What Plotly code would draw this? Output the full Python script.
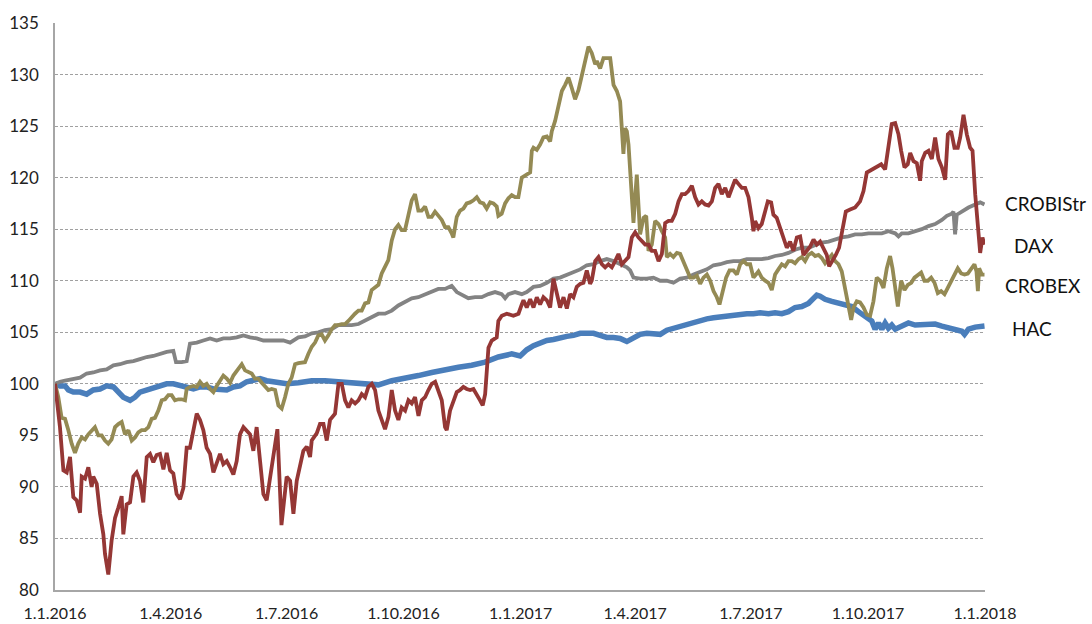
import pandas as pd
import plotly.graph_objects as go

START = pd.Timestamp("2016-01-01")

# ---------------- data (day offset from 1.1.2016, index value) ----------------
dax_days = [0, 3.9, 6.6, 9.2, 11.8, 14.4, 17, 19.7, 21, 23.6, 26.2, 28.8, 30.1, 32.8, 35.4, 38, 39.3, 41.9,
            44.5, 47.2, 49.8, 52.4, 53.7, 56.3, 59, 61.6, 64.2, 66.8, 69.4, 72.1, 74.7, 77.3, 79.9, 82.5,
            85.2, 87.8, 90.4, 93, 95.6, 98.3, 100.9, 103.5, 106.1, 108.8, 111.4, 114, 116.6, 119.2, 121.9,
            124.5, 127.1, 129.7, 132.3, 135, 137.6, 140.2, 142.8, 145.4, 148.1, 150.7, 153.3, 155.9, 158.5,
            161.2, 163.8, 166.4, 169, 171.6, 174.8, 178, 180.8, 182.1, 184.8, 187.4, 190, 195.2, 197.9,
            200.5, 201.8, 205.7, 208.3, 211, 213.6, 216.2, 220.1, 222.8, 225.4, 228, 230.6, 233.2, 235.9,
            238.5, 241.1, 243.7, 246.3, 249, 251.6, 254.2, 256.8, 259.4, 262.1, 264.7, 267.3, 269.9, 272.5,
            275.2, 277.8, 280.4, 283, 285.7, 288.3, 290.9, 293.5, 296.1, 298.8, 301.4, 304, 306.6, 307.9,
            310.5, 313.2, 315.8, 318.4, 321, 323.6, 326.3, 328.9, 331.5, 334.1, 336.2, 338.1, 340.7, 343.3,
            347.2, 348.5, 351.2, 355.1, 360.3, 364.3, 366.9, 368.2, 370.8, 373.5, 376.1, 378.7, 381.3, 383.9,
            386.6, 389.2, 391.8, 394.4, 397, 399.7, 402.3, 404.9, 407.5, 410.1, 412.8, 415.4, 418, 420.6,
            421.9, 424.6, 427.2, 429.8, 432.4, 435, 437.7, 440.3, 442.9, 445.5, 448.1, 450.8, 453.4, 456,
            458.6, 461.2, 463.9, 466.5, 469.1, 471.7, 474.4, 477, 479.6, 482.2, 484.8, 487.5, 490.1, 492.7,
            495.3, 497.9, 500.6, 503.2, 505.8, 508.4, 511, 513.7, 516.3, 518.9, 521.5, 524.1, 526.8, 529.4,
            532, 534.6, 537.2, 539.9, 542.5, 545.1, 547.7, 549, 550.3, 552.9, 555.5, 558.2, 560.3, 562.9,
            564.7, 567.3, 570, 572.6, 575.2, 577.8, 580.4, 583.1, 585.7, 588.3, 590.9, 593.5, 596.2, 598.8,
            601.4, 604, 606.6, 608.5, 611.1, 613.7, 616.3, 619, 621.6, 625, 628.9, 632.8, 635.5, 638.1, 642,
            646, 649.4, 652.5, 655.1, 657.7, 660.4, 663, 665.1, 667.7, 670.3, 672.2, 674.8, 677.4, 680,
            681.3, 684, 686.6, 689.2, 691.8, 694.4, 697.1, 699.7, 701.8, 704.4, 707, 709.6, 711.5, 714.1,
            716.7, 719.3, 721.2, 723.3, 725.4, 727.2, 729, 730.6]
dax_vals = [100, 95.8, 91.6, 91.4, 92.9, 89.0, 88.7, 87.5, 91.0, 90.8, 91.9, 90.0, 91.0, 90.3, 87.4, 85.4, 83.5,
            81.5, 84.8, 87.0, 88.0, 89.1, 85.4, 88.3, 88.5, 91.0, 91.4, 90.6, 88.5, 92.9, 93.2, 92.4, 93.1,
            93.2, 91.7, 93.3, 91.6, 91.3, 89.3, 88.8, 89.9, 93.8, 93.8, 95.5, 97.1, 96.5, 95.5, 93.8, 93.2,
            91.4, 92.2, 93.2, 92.2, 92.5, 91.9, 91.2, 92.5, 95.1, 95.8, 95.5, 95.1, 93.5, 95.8, 92.5, 89.3,
            88.7, 91.0, 93.2, 95.6, 86.3, 89.3, 91.0, 90.6, 87.4, 90.6, 93.5, 93.9, 92.9, 94.5, 95.2, 96.1,
            96.1, 94.5, 96.5, 97.1, 100, 100, 98.4, 97.7, 98.4, 98.1, 98.4, 99.0, 98.7, 99.7, 100, 99.4,
            97.4, 96.5, 95.6, 96.8, 99.4, 97.4, 96.5, 97.7, 97.4, 98.4, 98.1, 98.7, 96.9, 98.4, 98.7, 99.4,
            100, 100.2, 99.4, 98.4, 95.8, 95.5, 97.4, 98.4, 99.2, 99.4, 99.7, 99.5, 99.4, 99.5, 99.0, 98.4,
            97.9, 99.0, 103.5, 104.2, 104.5, 106.1, 106.6, 106.8, 106.6, 106.8, 107.7, 108.1, 107.4, 108.2,
            107.4, 108.4, 107.7, 108.4, 108.1, 107.4, 110.2, 108.7, 107.4, 108.4, 107.3, 108.7, 108.4, 109.4,
            109.7, 109.8, 111.0, 109.7, 110.0, 111.9, 112.3, 111.6, 111.3, 111.6, 111.3, 111.9, 112.6, 111.6,
            111.9, 112.3, 114.2, 114.7, 114.2, 113.9, 113.5, 113.5, 112.9, 112.9, 111.9, 112.6, 115.6, 115.8,
            115.8, 116.5, 117.7, 118.4, 118.4, 118.7, 119.2, 118.1, 117.4, 117.7, 117.4, 117.3, 117.7, 119.0,
            119.4, 118.4, 119.0, 118.1, 119.0, 119.8, 119.4, 119.0, 119.0, 118.1, 116.1, 114.8, 115.8, 115.1,
            115.5, 116.7, 117.7, 117.6, 116.4, 116.1, 115.1, 114.2, 113.2, 113.8, 112.9, 114.2, 114.3, 112.5,
            112.9, 113.3, 114.0, 113.5, 113.8, 113.2, 112.5, 111.4, 111.9, 112.5, 113.2, 115.1, 116.7, 116.9,
            117.1, 117.7, 118.7, 120.5, 120.8, 121.0, 121.3, 120.8, 122.9, 125.2, 125.3, 124.2, 122.6, 121.0,
            121.3, 122.4, 121.6, 121.4, 119.7, 121.6, 122.4, 122.6, 121.8, 123.9, 121.8, 121.0, 119.8, 124.2,
            124.5, 122.9, 122.9, 123.9, 126.1, 124.2, 122.9, 122.6, 118.4, 115.1, 112.7, 114.2, 113.5]

crobex_days = [0, 2.6, 5.2, 7.9, 10.5, 13.1, 15.7, 18.3, 21, 23.6, 26.2, 28.8, 31.4, 34.1, 36.7, 39.3, 41.9,
               44.5, 47.2, 49.8, 52.4, 55, 57.7, 60.3, 62.9, 65.5, 68.1, 70.8, 73.4, 76, 78.6, 81.2, 83.9,
               86.5, 89.1, 91.7, 94.3, 97, 99.6, 102.2, 103.5, 106.1, 108.8, 111.4, 114, 116.6, 119.2, 121.9,
               124.5, 127.1, 129.7, 132.3, 135, 137.6, 140.2, 142.8, 145.4, 146.8, 149.4, 152, 154.6, 157.2,
               159.9, 162.5, 165.1, 167.7, 170.3, 173, 175.6, 178.2, 180.8, 183.4, 186, 188.7, 191.3, 194,
               196.5, 199.1, 201.8, 204.4, 207, 209.6, 212.2, 214.9, 217.5, 220.1, 222.7, 225.3, 228, 230.6,
               233.2, 235.8, 238.5, 241.1, 243.7, 246.3, 248.9, 251.6, 254.2, 256.8, 259.4, 262, 264.7, 267.3,
               269.9, 272.5, 275.1, 277.8, 280.4, 283, 285.6, 288.2, 290.9, 293.5, 296.1, 298.7, 301.3, 304,
               306.6, 309.2, 311.8, 313.1, 315.8, 318.4, 321, 323.6, 326.2, 328.9, 331.5, 334.1, 336.7, 339.3,
               342, 344.6, 347.2, 348.5, 351.1, 353.8, 356.4, 359, 361.6, 364.2, 366.9, 370.8, 373.5, 374.8,
               376.1, 378.7, 381.3, 383.9, 386.6, 389.2, 390.5, 393.1, 395.7, 398.4, 401, 403.6, 406.2, 408.8,
               411.5, 414.1, 416.7, 419.3, 421.9, 424.6, 425.9, 428.5, 431.1, 433.7, 436.4, 439, 441.6, 444.2,
               445.5, 446.8, 448.1, 449.5, 450.8, 452.1, 453.4, 454.7, 456, 457.3, 458.6, 459.9, 462.6, 464.7,
               466.5, 469.1, 471.7, 474.4, 477, 479.6, 480.9, 483.5, 486.1, 488.8, 491.4, 494, 496.6, 499.3,
               501.9, 504.5, 507.1, 509.7, 512.4, 515, 517.6, 520.2, 522.3, 524.9, 527.5, 530.2, 533.3, 536,
               538.6, 541.2, 543.8, 546.4, 549, 552.9, 555.5, 558.2, 560.8, 563.4, 566, 568.6, 571.3, 573.9,
               576.5, 579.1, 581.7, 584.4, 587, 589.6, 592.2, 594.8, 597.5, 600.1, 602.7, 605.3, 608, 610.6,
               613.2, 615.8, 618.4, 621.1, 623.7, 625.8, 627.6, 630.2, 632.8, 635.5, 638.1, 640.7, 643.3,
               645.9, 648.6, 651.2, 653.8, 656.4, 658.3, 660.4, 662.5, 665.1, 667.7, 670.3, 673, 675.6, 678.2,
               680.8, 683.4, 686.1, 688.7, 691.3, 693.9, 696.5, 699.2, 701.8, 704.4, 707, 709.6, 712.3, 714.9,
               717.5, 720.1, 722.7, 724.3, 725.4, 726.4, 728.5, 730.6]
crobex_vals = [100, 98.7, 96.7, 96.6, 95.5, 94.2, 93.3, 94.2, 94.8, 94.6, 95.1, 95.5, 95.8, 95.0, 95.0, 94.5,
               94.2, 94.6, 95.8, 96.1, 96.3, 95.1, 95.5, 94.5, 94.8, 95.3, 95.5, 95.5, 95.8, 96.6, 96.7, 97.4,
               98.4, 98.5, 98.9, 98.9, 98.4, 98.5, 98.5, 98.4, 99.5, 99.7, 99.8, 99.7, 100.2, 99.8, 100, 99.5,
               99.2, 99.8, 100.3, 100.8, 100.5, 100.1, 100.8, 101.3, 101.8, 101.9, 101.3, 101.1, 101.0, 100.5,
               100.5, 100.1, 99.7, 99.4, 99.5, 99.4, 97.9, 97.6, 98.7, 100, 100.6, 101.9, 102.0, 102.1, 102.1,
               102.9, 103.6, 104.0, 104.7, 104.8, 104.2, 104.7, 105.3, 105.7, 105.7, 105.8, 105.8, 106.1, 106.5,
               106.8, 107.1, 107.1, 107.8, 107.9, 109.1, 109.4, 109.6, 110.7, 111.3, 112.0, 113.9, 115.0, 115.4,
               114.9, 114.9, 116.3, 117.8, 118.4, 116.8, 116.8, 117.2, 116.2, 116.2, 116.7, 116.3, 115.9, 115.2,
               115.2, 114.6, 114.2, 116.2, 116.8, 117.0, 117.5, 117.6, 117.8, 118.1, 117.6, 117.5, 117.0, 117.6,
               117.5, 117.2, 116.3, 116.5, 117.5, 118.0, 118.3, 118.1, 118.1, 120.0, 120.3, 120.5, 122.6, 122.9,
               122.7, 123.2, 123.9, 124.0, 123.5, 124.5, 125.5, 126.8, 128.4, 129.0, 129.7, 128.7, 127.6, 128.5,
               130.0, 131.6, 132.7, 132.1, 131.0, 131.3, 130.6, 131.6, 131.6, 131.6, 129.0, 128.4, 127.4, 125.2,
               122.3, 124.8, 124.5, 123.2, 120.6, 118.1, 115.6, 118.1, 120.3, 117.4, 114.5, 116.1, 116.3, 112.9,
               113.5, 115.8, 115.5, 114.8, 114.2, 112.3, 112.6, 112.3, 112.7, 112.6, 111.9, 111.0, 110.3, 110.3,
               110.5, 109.7, 110.3, 110.6, 110.0, 109.0, 108.4, 107.7, 109.0, 110.3, 111.0, 111.0, 110.6, 111.6,
               111.9, 111.6, 111.6, 110.3, 110.9, 110.3, 110.0, 109.8, 109.1, 110.6, 111.1, 111.6, 111.4, 111.9,
               111.9, 111.7, 112.1, 112.3, 111.9, 112.5, 112.7, 112.4, 112.5, 112.2, 111.7, 112.1, 112.5, 111.9,
               111.6, 110.9, 109.3, 107.4, 106.2, 107.4, 108.0, 107.9, 107.4, 106.7, 106.6, 108.0, 110.3, 110.0,
               109.3, 111.2, 112.4, 111.2, 109.3, 107.5, 110.0, 109.1, 109.6, 109.8, 110.3, 110.6, 110.8, 110.0,
               110.0, 110.3, 109.8, 108.8, 109.0, 108.7, 109.3, 110.0, 110.6, 111.2, 110.7, 110.6, 110.7, 111.2,
               111.6, 110.9, 109.0, 111.2, 110.6, 110.6]

crobistr_days = [0, 3.9, 7.9, 14.4, 19.7, 24.9, 30.1, 35.4, 40.6, 45.9, 51.1, 56.3, 61.6, 66.8, 72.1, 77.3,
                 82.5, 87.8, 93, 95.1, 99.6, 103.5, 106.1, 111.4, 116.6, 121.9, 127.1, 132.3, 137.6, 142.8,
                 148.1, 153.3, 158.5, 163.8, 169, 174.3, 179.5, 184.8, 191.3, 196.5, 201.8, 207, 212.2, 217.5,
                 222.7, 228, 233.2, 238.5, 243.7, 248.9, 254.2, 259.4, 264.7, 269.9, 275.1, 280.4, 285.6, 290.9,
                 296.1, 301.3, 306.6, 311.8, 315.8, 319.7, 324.9, 330.2, 335.4, 340.7, 345.9, 351.1, 353.8,
                 356.4, 361.6, 366.9, 370.8, 376.1, 381.3, 386.6, 391.8, 397, 402.3, 407.5, 412.8, 418, 423.3,
                 428.5, 433.7, 439, 444.2, 449.5, 452.1, 454.7, 459.9, 465.2, 470.4, 475.7, 480.9, 486.1, 491.4,
                 496.6, 501.9, 507.1, 512.4, 517.6, 522.8, 528.1, 533.3, 538.6, 543.8, 549, 555.5, 560.8, 566,
                 571.3, 576.5, 581.7, 587, 592.2, 597.5, 602.7, 608, 613.2, 618.4, 623.7, 628.9, 634.2, 639.4,
                 644.6, 649.9, 655.1, 660.4, 663, 665.6, 670.8, 676.1, 681.3, 686.6, 691.8, 697.1, 701, 704.9,
                 706.2, 707.5, 708.8, 712.8, 718, 723.3, 727.2, 730.6]
crobistr_vals = [100, 100.2, 100.3, 100.5, 100.6, 101.0, 101.1, 101.3, 101.4, 101.8, 101.9, 102.1, 102.2, 102.4,
                 102.6, 102.7, 102.9, 103.1, 103.2, 102.1, 102.1, 102.2, 103.9, 104.0, 104.2, 104.4, 104.2, 104.4,
                 104.4, 104.5, 104.7, 104.5, 104.4, 104.2, 104.2, 104.2, 104.2, 104.0, 104.5, 104.6, 104.9, 105.0,
                 105.2, 105.3, 105.7, 105.7, 105.7, 105.8, 106.1, 106.5, 106.8, 106.8, 107.1, 107.6, 107.9, 108.3,
                 108.4, 108.7, 108.9, 109.2, 109.2, 109.5, 108.9, 108.6, 108.3, 108.4, 108.4, 108.7, 108.9, 108.7,
                 108.3, 108.7, 108.9, 108.7, 108.9, 109.4, 109.5, 109.8, 110.2, 110.3, 110.6, 110.8, 111.1, 111.5,
                 111.6, 111.9, 112.1, 111.9, 111.6, 111.3, 111.0, 110.3, 110.2, 110.2, 110.3, 110.0, 110.0, 109.8,
                 110.2, 110.3, 110.6, 110.8, 111.1, 111.5, 111.6, 111.8, 111.9, 111.9, 112.1, 112.1, 112.1, 112.2,
                 112.4, 112.5, 112.7, 113.0, 113.2, 113.2, 113.5, 113.7, 113.8, 114.0, 114.2, 114.3, 114.5, 114.5,
                 114.6, 114.6, 114.6, 114.8, 114.6, 114.3, 114.6, 114.6, 114.8, 115.0, 115.3, 115.5, 115.9, 116.3,
                 116.5, 116.7, 114.5, 116.4, 116.7, 117.1, 117.4, 117.6, 117.4]

hac_days = [0, 3.9, 7.9, 10.5, 14.4, 19.7, 24.9, 30.1, 35.4, 40.6, 45.9, 49.8, 53.7, 59, 62.9, 66.8, 72.1,
            77.3, 82.5, 87.8, 93, 98.3, 103.5, 108.8, 114, 119.2, 124.5, 129.7, 135, 140.2, 145.4, 150.7,
            155.9, 161.2, 166.4, 171.6, 176.9, 182.1, 191.3, 201.8, 212.2, 222.7, 233.2, 243.7, 254.2, 264.7,
            275.1, 285.6, 296.1, 306.6, 317.1, 327.5, 338, 348.5, 359, 365.6, 370.8, 376.1, 381.3, 386.6,
            391.8, 397, 402.3, 407.5, 412.8, 418, 423.3, 428.5, 433.7, 439, 444.2, 449.5, 454.7, 459.9, 465.2,
            470.4, 475.7, 480.9, 486.1, 491.4, 496.6, 501.9, 507.1, 512.4, 517.6, 522.8, 528.1, 533.3, 538.6,
            543.8, 549, 554.3, 560.8, 566, 571.3, 576.5, 581.7, 587, 592.2, 596.2, 598.8, 601.4, 605.3, 610.6,
            615.8, 621.1, 626.3, 631.5, 636.8, 642, 644.6, 647.3, 649.9, 652.5, 655.1, 657.7, 660.4, 665.6,
            670.8, 676.1, 681.3, 686.6, 691.8, 697.1, 702.3, 707.5, 712.8, 714.9, 718, 723.3, 730.6]
hac_vals = [100, 99.8, 99.8, 99.4, 99.2, 99.2, 99.0, 99.4, 99.5, 99.8, 99.7, 99.2, 98.7, 98.4, 98.7, 99.2, 99.4,
            99.5, 99.7, 100.0, 100.0, 99.8, 99.7, 99.5, 99.7, 99.7, 99.5, 99.5, 99.4, 99.7, 99.8, 100.2, 100.3,
            100.5, 100.3, 100.2, 100.0, 100.0, 100.1, 100.3, 100.3, 100.2, 100.0, 100.0, 99.9, 100.3, 100.5,
            100.8, 101.1, 101.4, 101.6, 101.8, 102.1, 102.6, 102.9, 102.7, 103.3, 103.7, 104.0, 104.2, 104.3,
            104.5, 104.6, 104.7, 104.9, 104.9, 104.9, 104.7, 104.5, 104.5, 104.4, 104.1, 104.4, 104.8, 104.9,
            104.8, 104.8, 105.2, 105.4, 105.6, 105.8, 106.0, 106.1, 106.3, 106.4, 106.5, 106.5, 106.6, 106.8,
            106.8, 106.8, 106.9, 106.8, 106.9, 106.8, 107.0, 107.4, 107.5, 107.8, 108.2, 108.6, 108.5, 108.2,
            108.0, 107.8, 107.7, 107.5, 107.0, 106.6, 106.1, 105.3, 105.9, 105.3, 105.9, 105.4, 105.7, 105.3,
            105.6, 105.9, 105.7, 105.7, 105.7, 105.8, 105.6, 105.4, 105.3, 105.1, 104.8, 105.3, 105.5, 105.6]

tick_days = [0, 91, 182, 274, 366, 456, 547, 639, 731]
tick_labels = ["1.1.2016", "1.4.2016", "1.7.2016", "1.10.2016", "1.1.2017",
               "1.4.2017", "1.7.2017", "1.10.2017", "1.1.2018"]

# end labels: name, value level for label
label_names = ["CROBIStr", "DAX", "CROBEX", "HAC"]
label_levels = [117.5, 113.4, 109.5, 105.4]


def to_dates(days):
    return [START + pd.Timedelta(days=d) for d in days]


series = [
    ("HAC", hac_days, hac_vals, "#4A7EBB", 5.5),
    ("CROBIStr", crobistr_days, crobistr_vals, "#838383", 3.8),
    ("CROBEX", crobex_days, crobex_vals, "#948A54", 3.8),
    ("DAX", dax_days, dax_vals, "#953735", 3.8),
]

fig = go.Figure()
for name, d, v, col, w in series:
    fig.add_trace(go.Scatter(x=to_dates(d), y=v, mode="lines", name=name,
                             line=dict(color=col, width=w, shape="linear"),
                             showlegend=False, hoverinfo="skip"))

label_x = [1.0194, 1.029, 1.0194, 1.0266]
for nm, lv, lx in zip(label_names, label_levels, label_x):
    fig.add_annotation(text=nm, x=lx, xref="paper", y=lv, yref="y", xanchor="left",
                       yanchor="middle", showarrow=False,
                       font=dict(family="Lato, Open Sans, sans-serif", size=19, color="#111111"))

fig.update_layout(
    width=1092, height=624,
    margin=dict(l=55, r=107, t=23, b=34),
    paper_bgcolor="white", plot_bgcolor="white",
    font=dict(family="Lato, Open Sans, sans-serif", color="#222222"),
)
fig.update_xaxes(
    automargin=False,
    range=[START, START + pd.Timedelta(days=731)],
    tickvals=to_dates(tick_days), ticktext=tick_labels,
    tickfont=dict(size=16, color="#222222"),
    showgrid=False, zeroline=False,
    showline=True, linecolor="#A6A6A6", linewidth=1.5,
    ticks="outside", ticklen=8, tickcolor="rgba(0,0,0,0)",
)
fig.update_yaxes(
    automargin=False,
    range=[80, 135], dtick=5, tick0=80,
    tickfont=dict(size=17, color="#222222"),
    showgrid=True, gridcolor="#A0A0A0", gridwidth=1, griddash="3px,2px",
    zeroline=False,
    showline=True, linecolor="#A6A6A6", linewidth=1.5,
    ticks="outside", ticklen=11, tickcolor="rgba(0,0,0,0)",
)

fig.write_html("out.html", config={"displayModeBar": False},
               post_script="document.body.style.margin='0';document.body.style.padding='0';")
